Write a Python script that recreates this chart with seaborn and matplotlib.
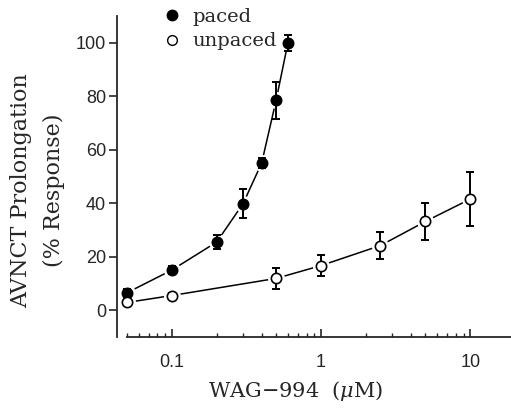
import matplotlib
matplotlib.use("Agg")
import matplotlib.pyplot as plt
import seaborn as sns
import numpy as np
import pandas as pd
from matplotlib.lines import Line2D
from matplotlib.ticker import LogLocator, NullFormatter, FixedLocator, FixedFormatter

# concentrations (uM) et réponses
conc_paced = [0.05, 0.1, 0.2, 0.3, 0.4, 0.5, 0.6]
resp_paced = [6.5, 15, 25.5, 39.8, 55, 78.5, 100]
err_paced = [1.5, 1.5, 2.5, 5.5, 2, 7, 3]

conc_unpaced = [0.05, 0.1, 0.5, 1, 2.5, 5, 10]
resp_unpaced = [2.9, 5.5, 11.9, 16.7, 24.2, 33.2, 41.6]
err_unpaced = [1, 1, 4, 4, 5, 7, 10]

y_ticks = [0, 20, 40, 60, 80, 100]
x_ticks = [0.1, 1, 10]
x_tick_labels = ["0.1", "1", "10"]

sns.set_style("ticks")
plt.rcParams["mathtext.fontset"] = "dejavuserif"

df_p = pd.DataFrame({"conc": conc_paced, "resp": resp_paced})
df_u = pd.DataFrame({"conc": conc_unpaced, "resp": resp_unpaced})

fig = plt.figure(figsize=(5.11, 4.09), dpi=100)
ax = fig.add_axes([117 / 511, 1 - 337 / 409, 1 - 117 / 511, (337 - 16) / 409])

# les courbes d'abord, puis un halo blanc pour laisser un petit vide autour des points
for df in (df_p, df_u):
    sns.lineplot(data=df, x="conc", y="resp", color="black", lw=1.1, ax=ax, zorder=1)
    ax.scatter(df["conc"], df["resp"], s=150, color="white", zorder=2, linewidths=0)

ax.errorbar(conc_paced, resp_paced, yerr=err_paced, fmt="none", ecolor="black",
            elinewidth=1.4, capsize=3, capthick=1.4, zorder=3)
ax.errorbar(conc_unpaced, resp_unpaced, yerr=err_unpaced, fmt="none", ecolor="black",
            elinewidth=1.4, capsize=3, capthick=1.4, zorder=3)

sns.scatterplot(data=df_p, x="conc", y="resp", marker="o", s=55, color="black",
                edgecolor="black", linewidth=1.2, ax=ax, zorder=4)
sns.scatterplot(data=df_u, x="conc", y="resp", marker="o", s=55, color="white",
                edgecolor="black", linewidth=1.2, ax=ax, zorder=4)

ax.set_xscale("log")
ax.set_xlim(0.043, 18.7)
ax.set_ylim(-10, 110)

sns.despine(ax=ax)
ax.spines["bottom"].set_bounds(0.05, 18.7)
ax.spines["left"].set_linewidth(1.3)
ax.spines["bottom"].set_linewidth(1.3)

ax.yaxis.set_major_locator(FixedLocator(y_ticks))
ax.tick_params(axis="y", direction="out", length=6, width=1.2, pad=2, labelsize=13)
ax.xaxis.set_major_locator(FixedLocator(x_ticks))
ax.xaxis.set_major_formatter(FixedFormatter(x_tick_labels))
ax.xaxis.set_minor_locator(LogLocator(base=10, subs=np.arange(2, 10)))
ax.xaxis.set_minor_formatter(NullFormatter())
ax.tick_params(axis="x", which="major", direction="in", length=6, width=1.2, pad=12, labelsize=13)
ax.tick_params(axis="x", which="minor", direction="in", length=3, width=1.0)
for lab in ax.get_xticklabels() + ax.get_yticklabels():
    lab.set_fontfamily("Liberation Sans")

ax.set_xlabel("")
ax.set_ylabel("")

serif = "DejaVu Serif"
fig.text(296 / 511, 1 - 391 / 409, "WAG\u2212994  ($\\mu$M)", ha="center", va="center",
         fontsize=15, family=serif)
fig.text(21 / 511, 1 - 191 / 409, "AVNCT Prolongation", ha="center", va="center",
         rotation=90, fontsize=16, family=serif)
fig.text(54 / 511, 1 - 190 / 409, "(% Response)", ha="center", va="center",
         rotation=90, fontsize=16, family=serif)

handles = [
    Line2D([], [], marker="o", ls="none", color="black", markersize=7.5),
    Line2D([], [], marker="o", ls="none", markerfacecolor="white",
           markeredgecolor="black", markersize=7),
]
fig.legend(handles, ["paced", "unpaced"], loc="upper left",
           bbox_to_anchor=(149 / 511, 1 + 6 / 409), frameon=False,
           prop={"family": serif, "size": 14}, handletextpad=0.55,
           labelspacing=0.35, handlelength=1.0, borderpad=0.2)

fig.savefig("out.png", dpi=100)
